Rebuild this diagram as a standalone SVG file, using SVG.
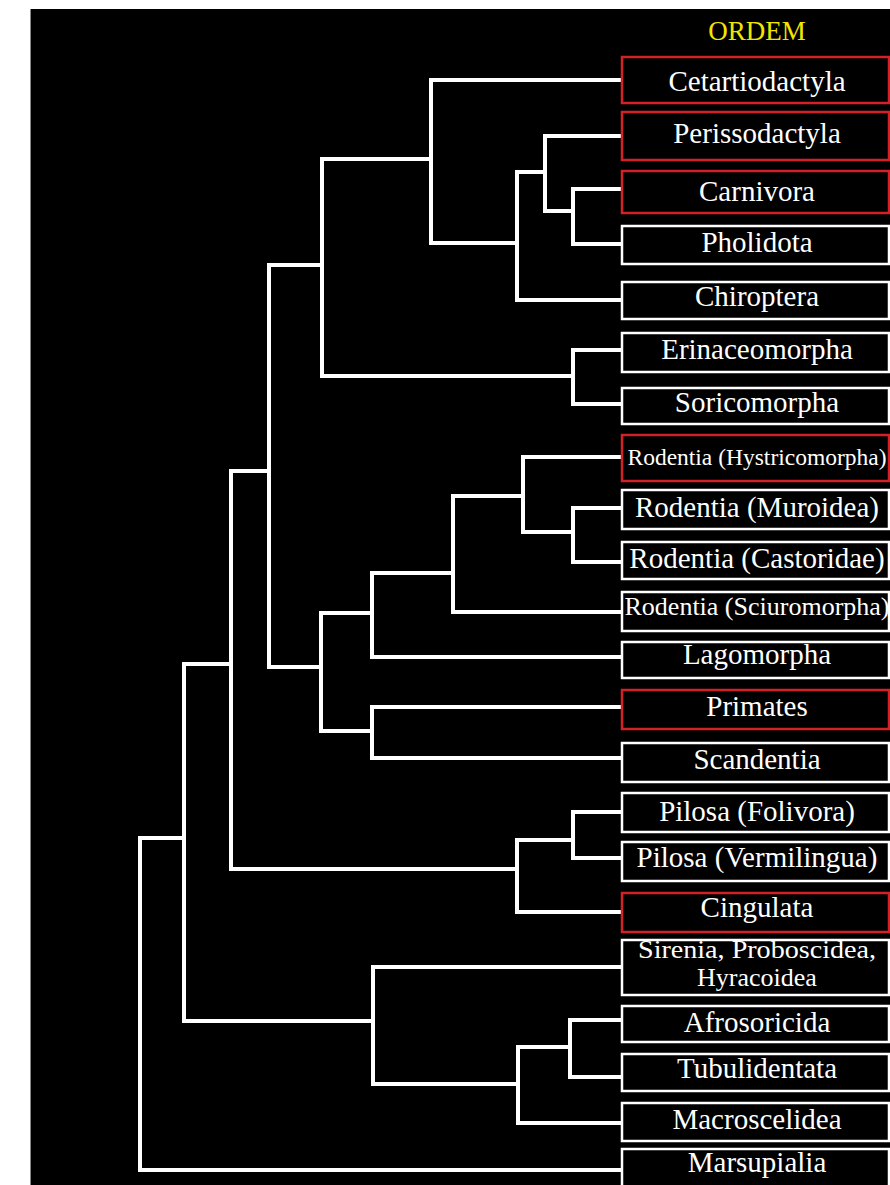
<svg xmlns="http://www.w3.org/2000/svg" width="890" height="1185" viewBox="0 0 890 1185">
<style>
.bx{fill:#000;stroke:#fff;stroke-width:2.5}
.rd{stroke:#d42027}
.t{font-family:"Liberation Serif","Times New Roman",serif;font-size:29px;fill:#fff;text-anchor:middle}
.br{fill:none;stroke:#fff;stroke-width:4;stroke-linejoin:miter;stroke-linecap:square}
</style>
<rect x="0" y="0" width="890" height="1185" fill="#fff"/>
<rect x="30" y="9" width="860" height="1176" fill="#000"/>
<line x1="30.5" y1="9" x2="30.5" y2="1185" stroke="#888" stroke-width="1"/>
<text id="title" x="757" y="40" class="t" style="font-size:27px;fill:#f2e600">ORDEM</text>
<g id="connectors" class="br">
<path d="M621,189 H573 V244 H621"/>
<path d="M621,136 H545 V211 H573"/>
<path d="M545,172 H517 V300 H621"/>
<path d="M621,80 H431 V243 H517"/>
<path d="M621,350 H573 V404 H621"/>
<path d="M431,159 H322 V376 H573"/>
<path d="M621,508 H573 V562 H621"/>
<path d="M621,457 H523 V532 H573"/>
<path d="M523,496 H453 V612 H621"/>
<path d="M453,573 H372 V657 H621"/>
<path d="M621,707 H372 V758 H621"/>
<path d="M372,613 H321 V731 H372"/>
<path d="M322,265 H269 V667 H321"/>
<path d="M621,812 H573 V858 H621"/>
<path d="M573,840 H517 V912 H621"/>
<path d="M269,471 H231 V869 H517"/>
<path d="M621,1020 H570 V1077 H621"/>
<path d="M570,1047 H518 V1123 H621"/>
<path d="M621,967 H373 V1084 H518"/>
<path d="M231,664 H184 V1021 H373"/>
<path d="M184,838 H140 V1170 H621"/>
</g>
<g id="n-cetartiodactyla"><rect class="bx rd" x="622" y="57" width="267" height="46"/><text class="t" x="757" y="91">Cetartiodactyla</text></g>
<g id="n-perissodactyla"><rect class="bx rd" x="622" y="112" width="267" height="48"/><text class="t" x="757" y="143">Perissodactyla</text></g>
<g id="n-carnivora"><rect class="bx rd" x="622" y="171" width="267" height="42"/><text class="t" x="757" y="201">Carnivora</text></g>
<g id="n-pholidota"><rect class="bx" x="622" y="226" width="267" height="38"/><text class="t" x="757" y="252">Pholidota</text></g>
<g id="n-chiroptera"><rect class="bx" x="622" y="282" width="267" height="37"/><text class="t" x="757" y="306">Chiroptera</text></g>
<g id="n-erinaceomorpha"><rect class="bx" x="622" y="333" width="267" height="39"/><text class="t" x="757" y="359">Erinaceomorpha</text></g>
<g id="n-soricomorpha"><rect class="bx" x="622" y="388" width="267" height="36"/><text class="t" x="757" y="412">Soricomorpha</text></g>
<g id="n-hystricomorpha"><rect class="bx rd" x="622" y="435" width="267" height="46"/><text class="t" x="757" y="465" style="font-size:23.5px">Rodentia (Hystricomorpha)</text></g>
<g id="n-muroidea"><rect class="bx" x="622" y="490" width="267" height="39"/><text class="t" x="757" y="517">Rodentia (Muroidea)</text></g>
<g id="n-castoridae"><rect class="bx" x="622" y="542" width="267" height="37"/><text class="t" x="757" y="568">Rodentia (Castoridae)</text></g>
<g id="n-sciuromorpha"><rect class="bx" x="622" y="592" width="267" height="39"/><text class="t" x="757" y="615" style="font-size:26px">Rodentia (Sciuromorpha)</text></g>
<g id="n-lagomorpha"><rect class="bx" x="622" y="642" width="267" height="36"/><text class="t" x="757" y="664">Lagomorpha</text></g>
<g id="n-primates"><rect class="bx rd" x="622" y="690" width="267" height="39"/><text class="t" x="757" y="716">Primates</text></g>
<g id="n-scandentia"><rect class="bx" x="622" y="743" width="267" height="39"/><text class="t" x="757" y="769">Scandentia</text></g>
<g id="n-folivora"><rect class="bx" x="622" y="793" width="267" height="39"/><text class="t" x="757" y="821">Pilosa (Folivora)</text></g>
<g id="n-vermilingua"><rect class="bx" x="622" y="842" width="267" height="39"/><text class="t" x="757" y="867">Pilosa (Vermilingua)</text></g>
<g id="n-cingulata"><rect class="bx rd" x="622" y="893" width="267" height="39"/><text class="t" x="757" y="917">Cingulata</text></g>
<g id="n-afrotheria1"><rect class="bx" x="622" y="940" width="267" height="55"/><text class="t" x="757" y="958" style="font-size:26px" textLength="238" lengthAdjust="spacingAndGlyphs">Sirenia, Proboscidea,</text><text class="t" x="757" y="986" style="font-size:26px">Hyracoidea</text></g>
<g id="n-afrosoricida"><rect class="bx" x="622" y="1006" width="267" height="36"/><text class="t" x="757" y="1032">Afrosoricida</text></g>
<g id="n-tubulidentata"><rect class="bx" x="622" y="1054" width="267" height="37"/><text class="t" x="757" y="1078">Tubulidentata</text></g>
<g id="n-macroscelidea"><rect class="bx" x="622" y="1103" width="267" height="38"/><text class="t" x="757" y="1129">Macroscelidea</text></g>
<g id="n-marsupialia"><rect class="bx" x="622" y="1149" width="267" height="45"/><text class="t" x="757" y="1172">Marsupialia</text></g>
</svg>
